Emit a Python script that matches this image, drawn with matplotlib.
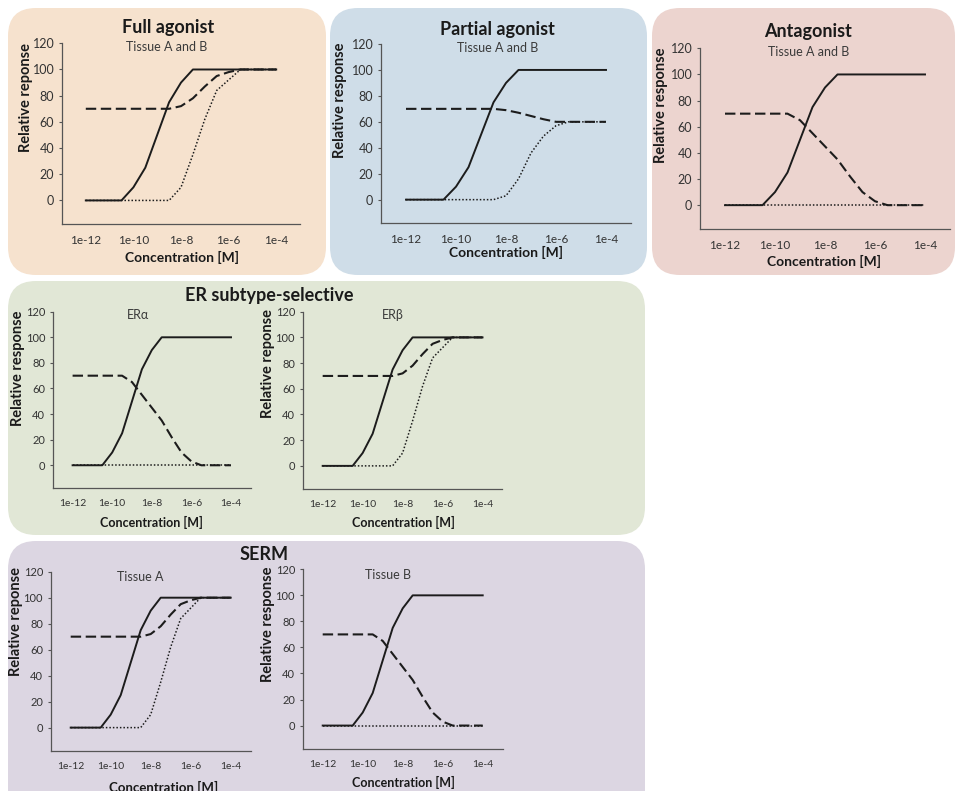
import matplotlib
matplotlib.use("Agg")
import matplotlib.pyplot as plt
from matplotlib.patches import FancyBboxPatch
from matplotlib.ticker import NullLocator

plt.rcParams['font.family'] = ['Lato', 'DejaVu Sans']

W, H = 956, 791

# log10 concentration, half-decade steps
log_conc = [-12, -11.5, -11, -10.5, -10, -9.5, -9, -8.5, -8, -7.5, -7, -6.5, -6, -5.5, -5, -4.5, -4]
conc = [10.0 ** c for c in log_conc]

# solid line: reference agonist (same in every panel)
ref_solid = [0, 0, 0, 0, 10, 25, 50, 75, 90, 100, 100, 100, 100, 100, 100, 100, 100]

# full agonist type (dashed / dotted)
agon_dashed = [70, 70, 70, 70, 70, 70, 70, 70, 72, 78, 87, 95, 98, 100, 100, 100, 100]
agon_dotted = [0, 0, 0, 0, 0, 0, 0, 0, 10, 35, 62, 84, 92, 100, 100, 100, 100]

# partial agonist type
part_dashed = [70, 70, 70, 70, 70, 70, 70, 70, 69, 67, 64.5, 62, 60, 60, 60, 60, 60]
part_dotted = [0, 0, 0, 0, 0, 0, 0, 0, 3, 16, 36, 49, 57, 60, 60, 60, 60]

# antagonist type
anta_dashed = [70, 70, 70, 70, 70, 70, 65, 55, 45, 35, 22, 10, 3, 0, 0, 0, 0]
anta_dotted = [0, 0, 0, 0, 0, 0, 0, 0, 0, 0, 0, 0, 0, 0, 0, 0, 0]

xtick_vals = [1e-12, 1e-10, 1e-8, 1e-6, 1e-4]
xtick_labels = ['1e-12', '1e-10', '1e-8', '1e-6', '1e-4']
ytick_vals = [0, 20, 40, 60, 80, 100, 120]

# group boxes: (x0, y0, x1, y1) in pixels, colour, title, title position
boxes = [
    ((8, 8, 326, 275), '#f6e2ce', 'Full agonist', (168, 27)),
    ((330, 8, 647, 275), '#cfdde8', 'Partial agonist', (497, 30)),
    ((652, 8, 955, 275), '#ecd4cf', 'Antagonist', (808, 32)),
    ((8, 281, 645, 535), '#e1e7d6', 'ER subtype-selective', (269, 296)),
    ((8, 541, 645, 830), '#dcd6e2', 'SERM', (264, 555)),
]

# panels: axes rect (left, top, right, bottom spine) in pixels, subtitle + pos,
# ylabel + pos, xlabel pos, xlabel size, tick label size, curves
panels = [
    ((62, 43.3, 300, 224), 'Tissue A and B', (167, 47), 'Relative reponse', (26, 97), (182, 257), 10, 9,
     (agon_dashed, agon_dotted)),
    ((381, 44, 631, 223), 'Tissue A and B', (498, 48), 'Relative response', (340, 100), (506, 252), 10, 9,
     (part_dashed, part_dotted)),
    ((700, 48.3, 950, 228.7), 'Tissue A and B', (809, 52), 'Relative response', (661, 105), (824, 261), 10, 9,
     (anta_dashed, anta_dotted)),
    ((52.8, 311.7, 250.8, 488.3), 'ER\u03b1', (138, 315), 'Relative response', (18, 368), (151, 522), 9, 8,
     (anta_dashed, anta_dotted)),
    ((302.7, 311.7, 502.5, 489), 'ER\u03b2', (393, 315), 'Relative reponse', (268, 364), (403, 522), 9, 8,
     (agon_dashed, agon_dotted)),
    ((50.7, 571.7, 250.7, 751), 'Tissue A', (140, 577), 'Relative reponse', (16, 621), (164, 787), 9.5, 8,
     (agon_dashed, agon_dotted)),
    ((302.7, 569.3, 502.7, 749), 'Tissue B', (388, 575), 'Relative response', (268, 624), (403, 782), 9, 8,
     (anta_dashed, anta_dotted)),
]

fig = plt.figure(figsize=(W / 100, H / 100), dpi=100)

bg = fig.add_axes([0, 0, 1, 1], zorder=-1)
bg.set_xlim(0, W)
bg.set_ylim(H, 0)
bg.axis('off')

for (x0, y0, x1, y1), col, title, (tx, ty) in boxes:
    bg.add_patch(FancyBboxPatch((x0, y0), x1 - x0, y1 - y0,
                                boxstyle='round,pad=0,rounding_size=28',
                                fc=col, ec='none'))
    bg.text(tx, ty, title, ha='center', va='center', fontsize=13,
            fontweight='bold', color='#1a1a1a')

line_col = '#1c1c1c'
for (x0, y0, x1, y1), sub, (sx, sy), ylab, (ylx, yly), (xlx, xly), xls, tks, (dashed, dotted) in panels:
    ax = fig.add_axes([x0 / W, 1 - y1 / H, (x1 - x0) / W, (y1 - y0) / H])
    ax.patch.set_alpha(0)
    ax.plot(conc, dotted, color=line_col, lw=1.1, linestyle=(0, (1, 1.3)))
    ax.plot(conc, dashed, color=line_col, lw=1.5, linestyle=(0, (5, 2.2)))
    ax.plot(conc, ref_solid, color=line_col, lw=1.4)
    ax.set_xscale('log')
    ax.set_xlim(1e-13, 1e-3)
    ax.set_ylim(-18, 120)
    ax.set_xticks(xtick_vals)
    ax.set_xticklabels(xtick_labels)
    ax.xaxis.set_minor_locator(NullLocator())
    ax.set_yticks(ytick_vals)
    for s in ['top', 'right']:
        ax.spines[s].set_visible(False)
    for s in ['left', 'bottom']:
        ax.spines[s].set_color('#555555')
        ax.spines[s].set_linewidth(0.9)
    ax.tick_params(axis='x', length=0, pad=8, labelsize=tks - 0.5, labelcolor='#333333')
    ax.tick_params(axis='y', length=2.5, width=0.8, color='#555555', pad=3,
                   labelsize=tks, labelcolor='#333333')

    bg.text(sx, sy, sub, ha='center', va='center', fontsize=9, color='#3a3a3a',
            family=['Lato', 'Liberation Serif'])
    bg.text(ylx, yly, ylab, ha='center', va='center', rotation=90,
            fontsize=10.5, fontweight='bold', color='#1a1a1a')
    bg.text(xlx, xly, 'Concentration [M]', ha='center', va='center',
            fontsize=xls, fontweight='bold', color='#1a1a1a')

fig.savefig('out.png', dpi=100)
